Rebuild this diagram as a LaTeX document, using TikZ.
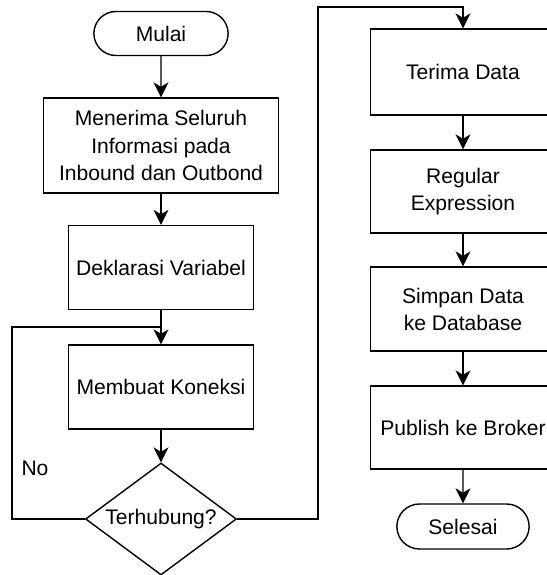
\documentclass[tikz,border=0pt]{standalone}
\usepackage{fontspec}
\setmainfont{Liberation Sans}
\usetikzlibrary{shapes.geometric,shapes.misc,arrows.meta}

\begin{document}
\begin{tikzpicture}[x=0.02cm,y=-0.02cm,
        font=\fontsize{12}{15.4}\selectfont,
        line width=0.8pt,
        proses/.style={draw, rectangle, align=center, minimum width=3.7cm, minimum height=1.68cm},
        terminal/.style={draw, rounded rectangle, minimum width=2.92cm, minimum height=0.88cm},
        keputusan/.style={draw, diamond, aspect=1.35, inner sep=0pt, minimum width=3.02cm, minimum height=2.24cm},
        panah/.style={-{Stealth[length=8.5pt,width=8.5pt,inset=2.5pt]}}]
        \useasboundingbox (0,0) rectangle (547,575);
        \node[terminal] (mulai) at (161,33.5) {Mulai};
        \node[proses, minimum width=4.7cm, minimum height=1.9cm] (menerima) at (161,145.5) {Menerima Seluruh\\Informasi pada\\Inbound dan Outbond};
        \node[proses] (deklarasi) at (161,267.5) {Deklarasi Variabel};
        \node[proses] (koneksi) at (161,387) {Membuat Koneksi};
        \node[keputusan] (cek) at (161,519) {Terhubung?};
        \node (no) at (35,468) {No};
        \coordinate (kiri) at (12,327);
        \coordinate (gabung) at (161,327);
        \coordinate (kanan) at (318,7);
        \node[proses, minimum height=1.72cm] (data) at (463,72) {Terima Data};
        \node[proses, minimum height=1.66cm] (regex) at (463,191.5) {Regular\\Expression};
        \node[proses] (simpan) at (463,309) {Simpan Data\\ke Database};
        \node[proses, minimum height=1.66cm] (publish) at (463,427.5) {Publish ke Broker};
        \node[terminal, minimum width=2.88cm, minimum height=0.9cm] (selesai) at (463,526.5) {Selesai};
        \draw[panah] (mulai) -- (menerima);
        \draw[panah] (menerima) -- (deklarasi);
        \draw[panah] (deklarasi) -- (koneksi);
        \draw[panah] (koneksi) -- (cek);
        \draw (cek.west) -| (kiri) -- (gabung);
        \draw[panah] (cek.east) -| (kanan) -| (data.north);
        \draw[panah] (data) -- (regex);
        \draw[panah] (regex) -- (simpan);
        \draw[panah] (simpan) -- (publish);
        \draw[panah] (publish) -- (selesai);
    \end{tikzpicture}
\end{document}
